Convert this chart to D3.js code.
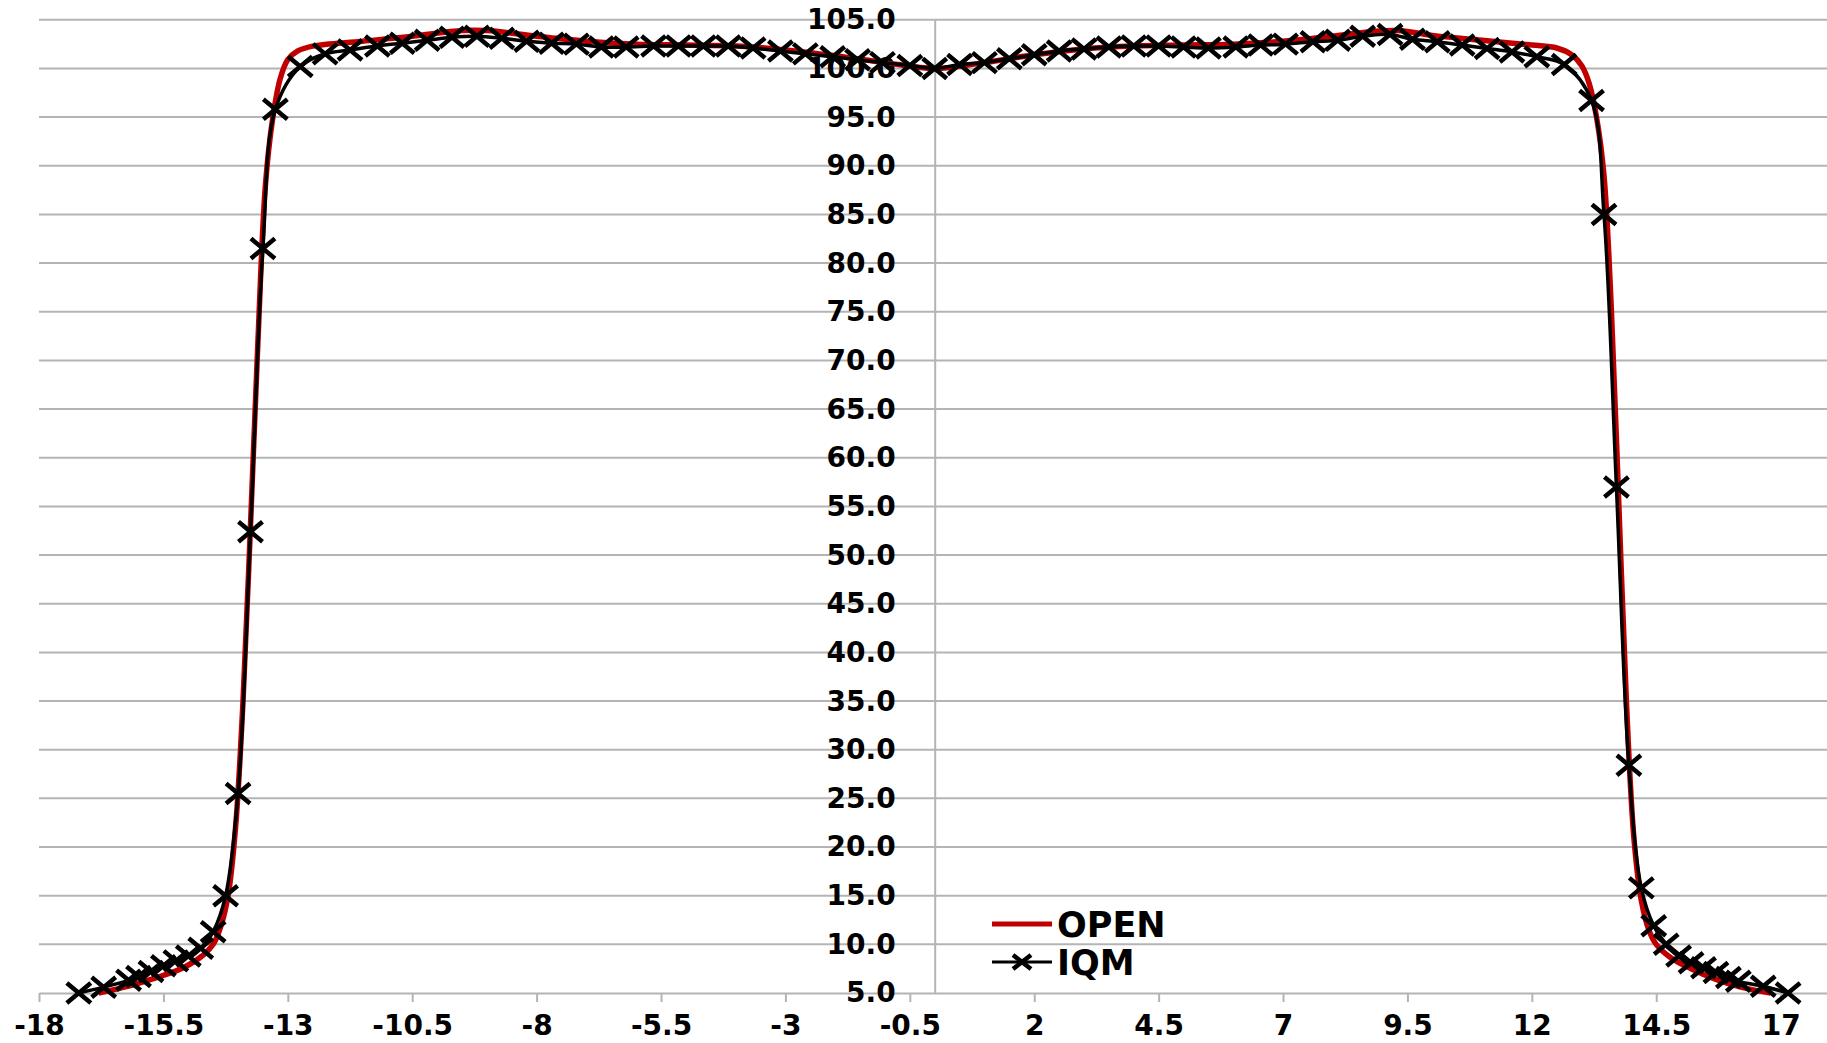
<!DOCTYPE html>
<meta charset="utf-8">
<head>
    <script src="https://d3js.org/d3.v7.min.js"></script>
    <style>
        body { margin: 0; background: #fff; }
        .grid line { stroke: #b4b4b4; stroke-width: 2; }
        .axis path, .axis line { stroke: #b4b4b4; stroke-width: 2; }
        .axis text, .legend text {
            font-family: "DejaVu Sans", sans-serif;
            font-weight: bold;
            fill: #000;
        }
        .axis text { font-size: 28px; }
        .legend text { font-size: 35px; }
    </style>
</head>
<body>
<div id="chart"></div>
<script>
    // IQM profile (markers)
    var iqmX = [-17.2, -16.7, -16.2, -16.0, -15.75, -15.5, -15.25, -15.0, -14.75, -14.5, -14.25, -14.0, -13.75, -13.5, -13.25,
        -12.75, -12.25, -11.75, -11.2, -10.7, -10.2, -9.7, -9.2, -8.7, -8.2, -7.7, -7.2, -6.7, -6.2, -5.65, -5.15, -4.65, -4.15,
        -3.65, -3.1, -2.6, -2.05, -1.55, -1.05, -0.5, 0,
        0.5, 1.0, 1.5, 2.0, 2.5, 3.0, 3.5, 4.0, 4.5, 5.0, 5.5, 6.05, 6.55, 7.05, 7.6, 8.1, 8.6, 9.15, 9.6, 10.1, 10.6, 11.1,
        11.6, 12.1, 12.65, 13.2, 13.45, 13.7, 13.95, 14.2, 14.45, 14.7, 14.95, 15.2, 15.45, 15.7, 15.95, 16.15, 16.65, 17.15];
    var iqmY = [5.0, 5.6, 6.3, 6.7, 7.2, 7.8, 8.3, 8.8, 9.6, 11.3, 15.0, 25.5, 52.4, 81.5, 95.8,
        100.2, 101.5, 101.9, 102.3, 102.6, 102.9, 103.2, 103.3, 103.1, 102.8, 102.6, 102.5, 102.2, 102.2, 102.3, 102.3, 102.3, 102.3,
        102.1, 101.8, 101.5, 101.2, 100.9, 100.6, 100.3, 100.0,
        100.4, 100.6, 101.0, 101.4, 101.8, 102.0, 102.2, 102.3, 102.3, 102.2, 102.1, 102.2, 102.4, 102.5, 102.75, 102.9, 103.3, 103.5, 103.0, 102.75, 102.4, 102.05,
        101.7, 101.2, 100.4, 96.7, 85.0, 57.0, 28.4, 15.8, 11.9, 10.0, 8.8, 8.1, 7.6, 7.1, 6.6, 6.2, 5.7, 5.0];

    // OPEN profile (smooth line)
    var openX = [-16.8, -16.2, -15.75, -15.1, -14.7, -14.5, -14.35, -14.2, -14.05, -13.9, -13.75, -13.6, -13.45, -13.3, -13.15,
        -13.0, -12.8, -12.5, -11.5, -10.5, -9.5, -9.0, -8.0, -7.0, -6.0, -5.0, -4.0, -3.0, -2.0, -1.0, 0,
        1.0, 2.0, 3.0, 4.0, 5.0, 6.0, 7.0, 8.0, 8.8, 9.3, 10.0, 11.0, 12.0, 12.5, 12.8, 13.0, 13.15, 13.3, 13.45, 13.6,
        13.75, 13.9, 14.05, 14.2, 14.35, 14.5, 14.8, 15.2, 15.7, 16.2, 16.8];
    var openY = [5.0, 5.7, 6.4, 7.6, 8.9, 10.0, 11.8, 15.0, 22.0, 35.0, 53.0, 72.0, 88.0, 95.0, 99.0,
        100.9, 101.8, 102.3, 102.8, 103.3, 103.9, 103.9, 103.3, 102.8, 102.5, 102.4, 102.3, 101.9, 101.3, 100.6, 100.0,
        100.6, 101.4, 102.0, 102.3, 102.4, 102.5, 102.8, 103.3, 103.8, 103.9, 103.4, 102.9, 102.4, 102.1, 101.4, 100.3, 98.5, 95.0, 89.0, 75.0,
        55.0, 35.0, 21.0, 14.5, 11.5, 10.0, 8.6, 7.5, 6.4, 5.6, 5.0];

    var xTicks = [-18, -15.5, -13, -10.5, -8, -5.5, -3, -0.5, 2, 4.5, 7, 9.5, 12, 14.5, 17];
    var yTicks = [5, 10, 15, 20, 25, 30, 35, 40, 45, 50, 55, 60, 65, 70, 75, 80, 85, 90, 95, 100, 105];

    var width = 1827, height = 1043;

    var x = d3.scaleLinear().domain([-18, 18]).range([39, 1830.4]);
    var y = d3.scaleLinear().domain([5, 105]).range([993, 19.8]);

    var svg = d3.select("#chart").append("svg")
        .attr("width", width)
        .attr("height", height)
        .style("display", "block");

    svg.append("rect").attr("width", width).attr("height", height).attr("fill", "#fff");

    // horizontal gridlines
    svg.append("g").attr("class", "grid")
        .selectAll("line")
        .data(yTicks.filter(function (d) { return d > 5; }))
        .enter().append("line")
        .attr("x1", x(-18)).attr("x2", width)
        .attr("y1", function (d) { return y(d); })
        .attr("y2", function (d) { return y(d); });

    // bottom axis
    var xAxis = svg.append("g").attr("class", "axis")
        .attr("transform", "translate(0," + y(5) + ")")
        .call(d3.axisBottom(x).tickValues(xTicks).tickSize(9).tickSizeOuter(0)
            .tickFormat(function (d) { return String(d); }));
    xAxis.selectAll("text").attr("dy", null).attr("y", 42);

    // vertical axis at x = 0
    svg.append("g").attr("class", "axis")
        .attr("transform", "translate(" + x(0) + ",0)")
        .call(d3.axisLeft(y).tickValues(yTicks).tickSize(0).tickSizeOuter(0).tickPadding(39)
            .tickFormat(function (d) { return d.toFixed(1); }));

    var line = d3.line()
        .x(function (d) { return x(d[0]); })
        .y(function (d) { return y(d[1]); })
        .curve(d3.curveCatmullRom.alpha(0.5));

    var openData = openX.map(function (v, i) { return [v, openY[i]]; });
    var iqmData = iqmX.map(function (v, i) { return [v, iqmY[i]]; });

    // OPEN line
    svg.append("path")
        .datum(openData)
        .attr("d", line)
        .attr("fill", "none")
        .attr("stroke", "#c00000")
        .attr("stroke-width", 5.5)
        .attr("stroke-linejoin", "round");

    // IQM line + markers
    svg.append("path")
        .datum(iqmData)
        .attr("d", line)
        .attr("fill", "none")
        .attr("stroke", "#000")
        .attr("stroke-width", 3.5)
        .attr("stroke-linejoin", "round");

    var cross = "M-12,-10L12,10M-12,10L12,-10";

    svg.append("g")
        .selectAll("path")
        .data(iqmData)
        .enter().append("path")
        .attr("d", cross)
        .attr("transform", function (d) { return "translate(" + x(d[0]) + "," + y(d[1]) + ")"; })
        .attr("fill", "none")
        .attr("stroke", "#000")
        .attr("stroke-width", 4.5);

    // legend
    var legend = svg.append("g").attr("class", "legend");
    legend.append("line")
        .attr("x1", 992).attr("x2", 1052).attr("y1", 924).attr("y2", 924)
        .attr("stroke", "#c00000").attr("stroke-width", 5);
    legend.append("text").attr("x", 1057).attr("y", 937).text("OPEN");
    legend.append("line")
        .attr("x1", 992).attr("x2", 1052).attr("y1", 962).attr("y2", 962)
        .attr("stroke", "#000").attr("stroke-width", 3);
    legend.append("path")
        .attr("d", "M-9,-7L9,7M-9,7L9,-7")
        .attr("transform", "translate(1022,962)")
        .attr("fill", "none").attr("stroke", "#000").attr("stroke-width", 4.5);
    legend.append("text").attr("x", 1057).attr("y", 975).text("IQM");
</script>
</body>
